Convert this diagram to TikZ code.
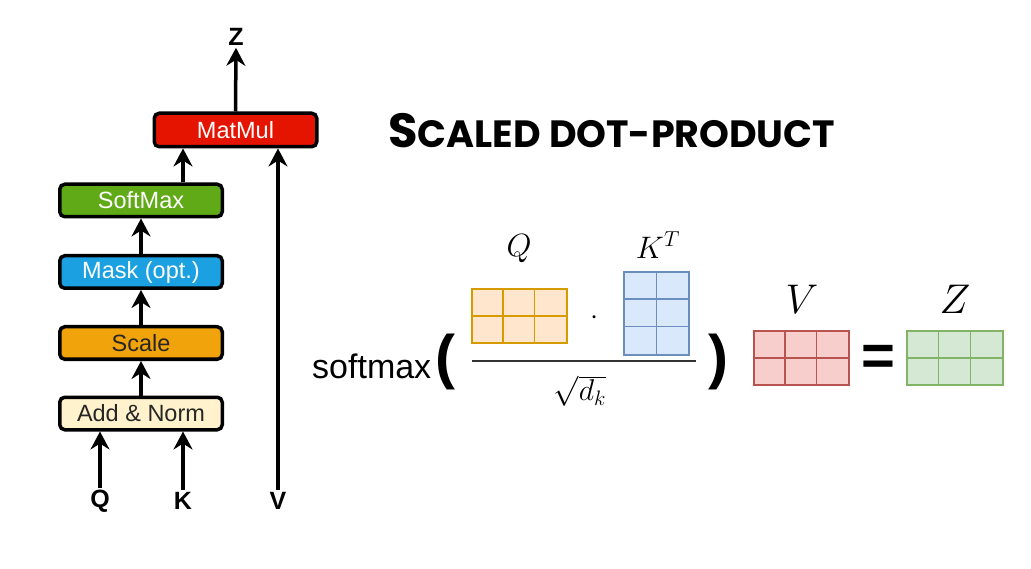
\documentclass[tikz,border=0pt]{standalone}
\usepackage{graphicx}
\usepackage{fontspec}
\setmainfont{Liberation Sans}
\newfontfamily\titlefont{Poppins}
\usetikzlibrary{arrows.meta}
\definecolor{cRed}{HTML}{E51400}
\definecolor{cGreen}{HTML}{60A917}
\definecolor{cBlue}{HTML}{1BA1E2}
\definecolor{cOrange}{HTML}{F0A30A}
\definecolor{cCream}{HTML}{FFF2CC}
\definecolor{qFill}{HTML}{FFE6CC}\definecolor{qDraw}{HTML}{D79B00}
\definecolor{kFill}{HTML}{DAE8FC}\definecolor{kDraw}{HTML}{6C8EBF}
\definecolor{vFill}{HTML}{F8CECC}\definecolor{vDraw}{HTML}{B85450}
\definecolor{zFill}{HTML}{D5E8D4}\definecolor{zDraw}{HTML}{82B366}
\newcommand{\mathbig}[2]{\scalebox{#1}{\fontsize{20}{24}\selectfont$#2$}}
\begin{document}
\begin{tikzpicture}[x=1pt,y=-1pt,
  opbox/.style={draw=black, line width=3.5pt, rounded corners=5pt, minimum width=162.5pt, minimum height=32.5pt, inner sep=0pt, font=\fontsize{23.5}{27}\selectfont},
  arr/.style={line width=3.5pt, -{Stealth[length=18pt,width=19pt,inset=6pt]}},
  io/.style={font=\fontsize{25}{29}\selectfont\bfseries, inner sep=2pt},
  mat/.style={line width=1.3pt, inner sep=0pt},
  mlab/.style={inner sep=0pt}]
\useasboundingbox[fill=white] (0,0) rectangle (1031,569);

% left column
\node[opbox, fill=cRed, text=white, minimum height=33.5pt] (matmul) at (235.5,130) {MatMul};
\node[opbox, fill=cGreen, text=white] (softmax) at (141,200.5) {SoftMax};
\node[opbox, fill=cBlue, text=white] (mask) at (141,272) {Mask (opt.)};
\node[opbox, fill=cOrange, text=black!85] (scale) at (141,343) {Scale};
\node[opbox, fill=cCream, text=black!85] (addnorm) at (141,413.5) {Add \& Norm};

\node[io] (Z) at (236,37) {Z};
\node[io] (Q) at (100,501) {Q};
\node[io] (K) at (183,501) {K};
\node[io] (V) at (278,501) {V};

\coordinate (c1) at (183,0);
\draw[arr] (matmul.north) -- (Z.south);
\draw[arr] (softmax.north -| c1) -- (matmul.south -| c1);
\draw[arr] (V.north) -- (matmul.south -| V);
\draw[arr] (mask.north) -- (softmax.south);
\draw[arr] (scale.north) -- (mask.south);
\draw[arr] (addnorm.north) -- (scale.south);
\draw[arr] (Q.north) -- (addnorm.south -| Q);
\draw[arr] (K.north) -- (addnorm.south -| K);

% title
\node[inner sep=0pt, anchor=base west] (title) at (388,148)
  {\titlefont\bfseries\fontsize{48}{52}\selectfont S\fontsize{38}{42}\selectfont CALED DOT-PRODUCT};

% formula
\node[inner sep=0pt, anchor=base west, font=\fontsize{34}{40}\selectfont] (sm) at (312,378) {softmax};
\node[inner sep=0pt, font=\fontsize{60}{60}\selectfont\bfseries] (lp) at (445,362) {(};
\node[inner sep=0pt, font=\fontsize{60}{60}\selectfont\bfseries] (rp) at (718,362) {)};

% Q matrix 3x2
\node[mat, draw=qDraw, fill=qFill, minimum width=95pt, minimum height=54pt] (qm) at (519.5,316) {};
\draw[qDraw, line width=1.3pt] (qm.north west) ++(31.67,0) -- ++(0,54) (qm.north west) ++(63.33,0) -- ++(0,54)
  (qm.west) -- (qm.east);
% K^T matrix 2x3
\node[mat, draw=kDraw, fill=kFill, minimum width=65pt, minimum height=83pt] (km) at (656.5,313.5) {};
\draw[kDraw, line width=1.3pt] (km.north) -- (km.south)
  (km.north west) ++(0,27.67) -- ++(65,0) (km.north west) ++(0,55.33) -- ++(65,0);
% V matrix
\node[mat, draw=vDraw, fill=vFill, minimum width=95pt, minimum height=54pt] (vm) at (801.5,358) {};
\draw[vDraw, line width=1.3pt] (vm.north west) ++(31.67,0) -- ++(0,54) (vm.north west) ++(63.33,0) -- ++(0,54)
  (vm.west) -- (vm.east);
% Z matrix
\node[mat, draw=zDraw, fill=zFill, minimum width=96pt, minimum height=54pt] (zm) at (955,358) {};
\draw[zDraw, line width=1.3pt] (zm.north west) ++(32,0) -- ++(0,54) (zm.north west) ++(64,0) -- ++(0,54)
  (zm.west) -- (zm.east);

\node[mlab] (ql) at (519,249) {\mathbig{1.55}{Q}};
\node[mlab] (kl) at (658,245) {\mathbig{1.5}{K^T}};
\node[mlab] (vl) at (802,299) {\mathbig{2.0}{V}};
\node[mlab] (zl) at (955,299) {\mathbig{2.0}{Z}};
\node[mlab] (dot) at (595,318) {\mathbig{1.4}{\cdot}};

\coordinate (fl) at (472,361);
\coordinate (fr) at (696,361);
\draw[line width=2pt, black!80] (fl) -- (fr);
\node[mlab] (sq) at (580,391) {\mathbig{1.45}{\sqrt{d_k}}};

\node[mlab, font=\fontsize{58}{60}\selectfont\bfseries] (eq) at (878,360) {=};
\end{tikzpicture}
\end{document}
